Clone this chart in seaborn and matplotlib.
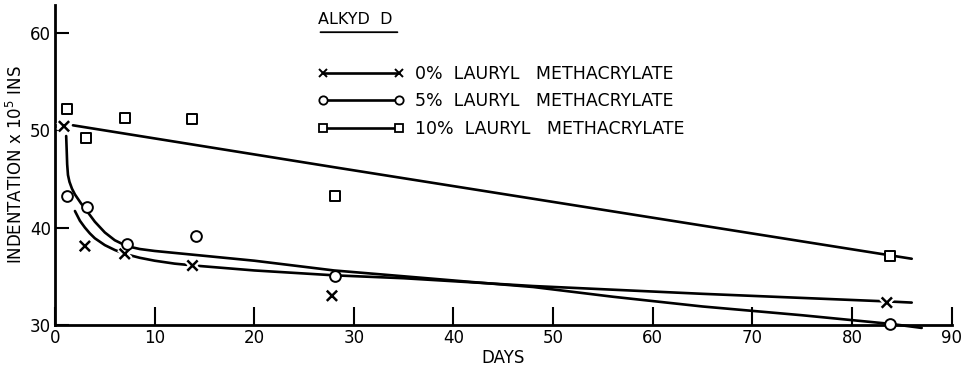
import matplotlib
matplotlib.use("Agg")
import matplotlib.pyplot as plt
import matplotlib.patheffects as pe
from matplotlib.lines import Line2D
import seaborn as sns

# measured points
lm0_days = [0.9, 3.0, 7.0, 13.8, 27.8, 83.5]
lm0_vals = [50.4, 38.1, 37.3, 36.1, 33.0, 32.3]
lm5_days = [1.2, 3.2, 7.2, 14.2, 28.1, 83.8]
lm5_vals = [43.2, 42.1, 38.3, 39.1, 35.0, 30.1]
lm10_days = [1.2, 3.1, 7.0, 13.8, 28.1, 83.8]
lm10_vals = [52.2, 49.2, 51.2, 51.1, 43.2, 37.1]

# hand-drawn fitted curves
fit0_days = [2.0, 2.5, 3.0, 3.5, 4.0, 5.0, 6.0, 7.0, 8.5, 10, 12, 14, 20, 28, 35, 48, 65, 84, 86]
fit0_vals = [41.7, 40.7, 40.0, 39.4, 38.9, 38.2, 37.7, 37.3, 36.9, 36.6, 36.3, 36.1, 35.6, 35.1,
             34.8, 34.0, 33.2, 32.4, 32.3]
fit5_days = [1.12, 1.17, 1.22, 1.3, 1.45, 1.7, 2.0, 2.6, 3.2, 4.0, 5.0, 6.0, 7.2, 8.5, 10, 14,
             20, 28, 35, 42, 48, 56, 65, 75, 84, 87]
fit5_vals = [49.4, 48.0, 46.5, 45.4, 44.7, 44.0, 43.4, 42.5, 41.7, 40.6, 39.5, 38.7, 38.1, 37.8,
             37.6, 37.2, 36.6, 35.6, 35.0, 34.4, 33.9, 32.9, 31.9, 31.0, 30.1, 29.7]
fit10_days = [1.8, 28, 86]
fit10_vals = [50.5, 46.2, 36.8]

labels = ["0%  LAURYL   METHACRYLATE", "5%  LAURYL   METHACRYLATE", "10%  LAURYL   METHACRYLATE"]
x_ticks = [0, 10, 20, 30, 40, 50, 60, 70, 80, 90]
y_ticks = [30, 40, 50, 60]

sns.set_theme(style="ticks")
plt.rcParams["font.family"] = ["DejaVu Sans"]
plt.rcParams.update({"text.color": "black", "axes.labelcolor": "black",
                     "xtick.color": "black", "ytick.color": "black"})

fig = plt.figure(figsize=(9.72, 3.73), dpi=100)
ax = fig.add_axes([0.0566, 0.1287, 0.9224, 0.8579])

lw = 1.9
for d, v in [(fit10_days, fit10_vals), (fit5_days, fit5_vals), (fit0_days, fit0_vals)]:
    sns.lineplot(x=d, y=v, ax=ax, color="black", linewidth=lw, sort=False,
                 estimator=None, clip_on=False, zorder=2)

halo = [pe.withStroke(linewidth=5, foreground="white")]
sns.scatterplot(x=lm0_days, y=lm0_vals, ax=ax, marker="x", s=55, color="black",
                linewidth=1.8, clip_on=False, zorder=4)
ax.collections[-1].set_path_effects(halo)
sns.scatterplot(x=lm5_days, y=lm5_vals, ax=ax, marker="o", s=60, facecolor="white",
                edgecolor="black", linewidth=1.4, clip_on=False, zorder=4)
sns.scatterplot(x=lm10_days, y=lm10_vals, ax=ax, marker="s", s=55, facecolor="white",
                edgecolor="black", linewidth=1.4, clip_on=False, zorder=4)

ax.set_xlim(0, 90)
ax.set_ylim(30, 62.85)
ax.set_xticks(x_ticks)
ax.set_yticks(y_ticks)
ax.tick_params(direction="in", length=10, width=1.5, labelsize=12, colors="black", pad=3)
ax.tick_params(axis="x", length=13)
for sp in ["top", "right"]:
    ax.spines[sp].set_visible(False)
for sp in ["left", "bottom"]:
    ax.spines[sp].set_linewidth(2)
    ax.spines[sp].set_color("black")
ax.set_xlabel("DAYS", fontsize=12, labelpad=1)
ax.set_ylabel(r"INDENTATION x 10$^5$ INS", fontsize=12, labelpad=3)

# title
ax.text(0.293, 0.955, "ALKYD  D", transform=ax.transAxes, fontsize=11.5, va="center", ha="left")
ax.annotate("", xy=(0.293, 0.915), xytext=(0.385, 0.915), xycoords="axes fraction",
            arrowprops=dict(arrowstyle="-", lw=1.3, color="black"))

handles = [
    Line2D([], [], color="black", lw=lw, marker="x", ms=6, mew=1.4),
    Line2D([], [], color="black", lw=lw, marker="o", ms=6, mfc="white", mew=1.3),
    Line2D([], [], color="black", lw=lw, marker="s", ms=6, mfc="white", mew=1.3),
]
leg = ax.legend(handles, labels, numpoints=2, loc="upper left", bbox_to_anchor=(0.283, 0.84),
                frameon=False, fontsize=12.5, handlelength=5.0, handletextpad=0.6,
                labelspacing=0.55, borderpad=0)

fig.savefig("out.png", dpi=100)
